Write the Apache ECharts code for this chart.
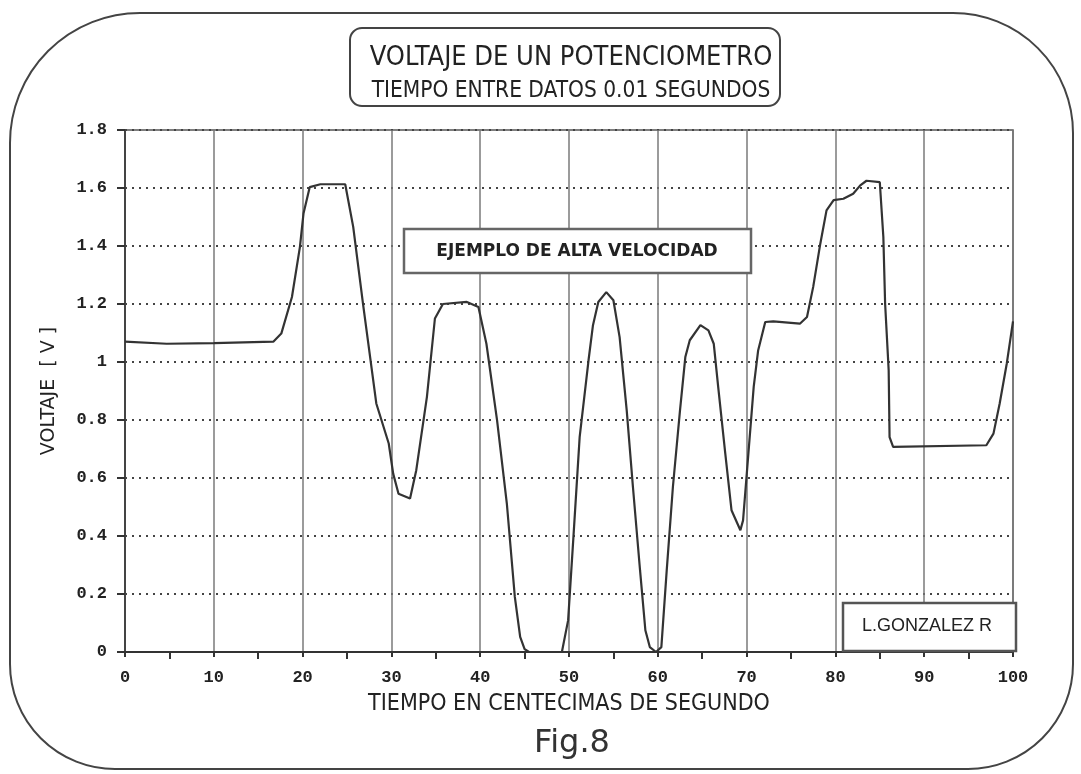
<!DOCTYPE html>
<html>
<head>
<meta charset="utf-8">
<script src="https://cdn.jsdelivr.net/npm/echarts@6/dist/echarts.min.js"></script>
<style>
html,body{margin:0;padding:0;background:#fff;}
#chart{width:1081px;height:774px;}
</style>
</head>
<body>
<div id="chart"></div>
<script>
// Tiempo (centésimas de segundo)
var tiempo = [0, 4.7, 10, 16.7, 17.6, 18.8, 19.7, 20.1, 20.8, 22.0, 24.8, 25.7, 26.8, 28.3, 29.7, 30.2, 30.8, 32.1, 32.8, 34.0, 34.9, 35.8, 38.5, 39.8, 40.7, 41.9, 43.0, 43.9, 44.5, 45.0, 45.5, 49.2, 49.9, 50.5, 51.2, 52.2, 52.7, 53.3, 54.2, 55.0, 55.7, 56.5, 57.2, 58.0, 58.6, 59.1, 59.8, 60.4, 61.0, 61.7, 62.5, 63.1, 63.6, 64.8, 65.7, 66.3, 66.8, 67.6, 68.3, 69.3, 69.6, 70.2, 70.8, 71.3, 72.1, 73.0, 76.0, 76.8, 77.5, 78.3, 79.0, 79.8, 80.9, 82.0, 82.8, 83.5, 85.0, 85.4, 85.6, 86.0, 86.1, 86.5, 97.0, 97.8, 98.5, 99.3, 100];
// Voltaje (V)
var voltaje = [1.07, 1.063, 1.065, 1.07, 1.098, 1.224, 1.397, 1.512, 1.603, 1.613, 1.613, 1.466, 1.201, 0.857, 0.719, 0.615, 0.546, 0.529, 0.627, 0.88, 1.15, 1.2, 1.207, 1.19, 1.063, 0.799, 0.512, 0.19, 0.052, 0.01, 0, 0, 0.109, 0.397, 0.741, 1.006, 1.127, 1.207, 1.241, 1.213, 1.086, 0.833, 0.569, 0.282, 0.075, 0.017, 0, 0.017, 0.28, 0.569, 0.833, 1.017, 1.075, 1.127, 1.109, 1.063, 0.914, 0.684, 0.489, 0.42, 0.454, 0.684, 0.914, 1.04, 1.138, 1.14, 1.132, 1.155, 1.259, 1.408, 1.523, 1.558, 1.563, 1.58, 1.609, 1.625, 1.62, 1.431, 1.201, 0.971, 0.741, 0.707, 0.713, 0.753, 0.857, 0.995, 1.14];

var xTicks = [0, 10, 20, 30, 40, 50, 60, 70, 80, 90, 100];
var yTicks = [0, 0.2, 0.4, 0.6, 0.8, 1, 1.2, 1.4, 1.6, 1.8];

var tituloTexto = 'VOLTAJE DE UN POTENCIOMETRO';
var subtituloTexto = 'TIEMPO ENTRE DATOS 0.01 SEGUNDOS';
var ejeX = 'TIEMPO EN CENTECIMAS DE SEGUNDO';
var ejeY = 'VOLTAJE  [ V ]';
var nota = 'EJEMPLO DE ALTA VELOCIDAD';
var autor = 'L.GONZALEZ R';
var figura = 'Fig.8';

var pares = tiempo.map(function (t, i) { return [t, voltaje[i]]; });

var narrow = "'DejaVu Sans Condensed', 'Liberation Sans Narrow', 'Liberation Sans', sans-serif";
var mono = "'Liberation Mono', 'DejaVu Sans Mono', monospace";

var chart = echarts.init(document.getElementById('chart'), null, {renderer: 'canvas'});
chart.setOption({
  backgroundColor: '#ffffff',
  animation: false,
  title: {
    text: tituloTexto,
    subtext: subtituloTexto,
    left: 566,
    textAlign: 'center',
    top: 39,
    itemGap: 9,
    textStyle: {fontFamily: narrow, fontSize: 27, fontWeight: 'normal', color: '#222'},
    subtextStyle: {fontFamily: narrow, fontSize: 22.5, fontWeight: 'normal', color: '#222'}
  },
  grid: {left: 125, right: 68, top: 130, bottom: 122, show: true, borderColor: '#555', borderWidth: 1.5, backgroundColor: 'transparent'},
  xAxis: {
    type: 'value', min: 0, max: 100, interval: 10,
    name: ejeX, nameLocation: 'middle', nameGap: 41,
    nameTextStyle: {fontFamily: narrow, fontSize: 23, color: '#222'},
    axisLine: {lineStyle: {color: '#333', width: 2}},
    axisTick: {show: true, length: 5, lineStyle: {color: '#333', width: 2}},
    minorTick: {show: true, splitNumber: 2, length: 7, lineStyle: {color: '#333', width: 2}},
    axisLabel: {
      fontFamily: mono, fontWeight: 'bold', fontSize: 17, color: '#222', margin: 17,
      customValues: xTicks
    },
    splitLine: {show: true, lineStyle: {color: '#7a7a7a', width: 1.5, type: 'solid'}}
  },
  yAxis: {
    type: 'value', min: 0, max: 1.8, interval: 0.2,
    name: ejeY, nameLocation: 'middle', nameGap: 66, nameRotate: 90,
    nameTextStyle: {fontFamily: "'DejaVu Sans', sans-serif", fontSize: 19, color: '#222'},
    axisLine: {show: true, lineStyle: {color: '#444', width: 2}},
    axisTick: {show: true, length: 8, lineStyle: {color: '#333', width: 2}},
    axisLabel: {fontFamily: mono, fontWeight: 'bold', fontSize: 17, color: '#222', margin: 18,
      formatter: function (v) { return String(Math.round(v * 10) / 10); }},
    splitLine: {show: true, lineStyle: {color: '#444', width: 2, type: [2, 5]}}
  },
  series: [{
    type: 'line',
    data: pares,
    showSymbol: false,
    symbol: 'none',
    smooth: false,
    lineStyle: {color: '#333', width: 2.2},
    z: 5
  }],
  graphic: [
    {type: 'rect', silent: true, z: -1, shape: {x: 10, y: 13, width: 1063, height: 756, r: [130, 120, 105, 105]}, style: {fill: 'none', stroke: '#444', lineWidth: 2}},
    {type: 'rect', silent: true, shape: {x: 350, y: 28, width: 430, height: 78, r: 12}, style: {fill: '#fff', stroke: '#444', lineWidth: 2}, z: -1},
    {type: 'rect', silent: true, shape: {x: 404, y: 229, width: 347, height: 44}, style: {fill: '#fff', stroke: '#666', lineWidth: 2.5}, z: 10},
    {type: 'text', silent: true, z: 11, style: {x: 577, y: 252, text: nota, textAlign: 'center', textVerticalAlign: 'middle', font: "bold 17px 'DejaVu Sans', sans-serif", fill: '#222'}},
    {type: 'rect', silent: true, shape: {x: 843, y: 603, width: 173, height: 48}, style: {fill: '#fff', stroke: '#555', lineWidth: 2.5}, z: 10},
    {type: 'text', silent: true, z: 11, style: {x: 927, y: 626, text: autor, textAlign: 'center', textVerticalAlign: 'middle', font: "18px 'Liberation Sans', sans-serif", fill: '#222'}},
    {type: 'text', silent: true, z: 11, style: {x: 572, y: 744, text: figura, textAlign: 'center', textVerticalAlign: 'middle', font: "32px 'DejaVu Sans', sans-serif", fill: '#333'}}
  ]
});
</script>
</body>
</html>
